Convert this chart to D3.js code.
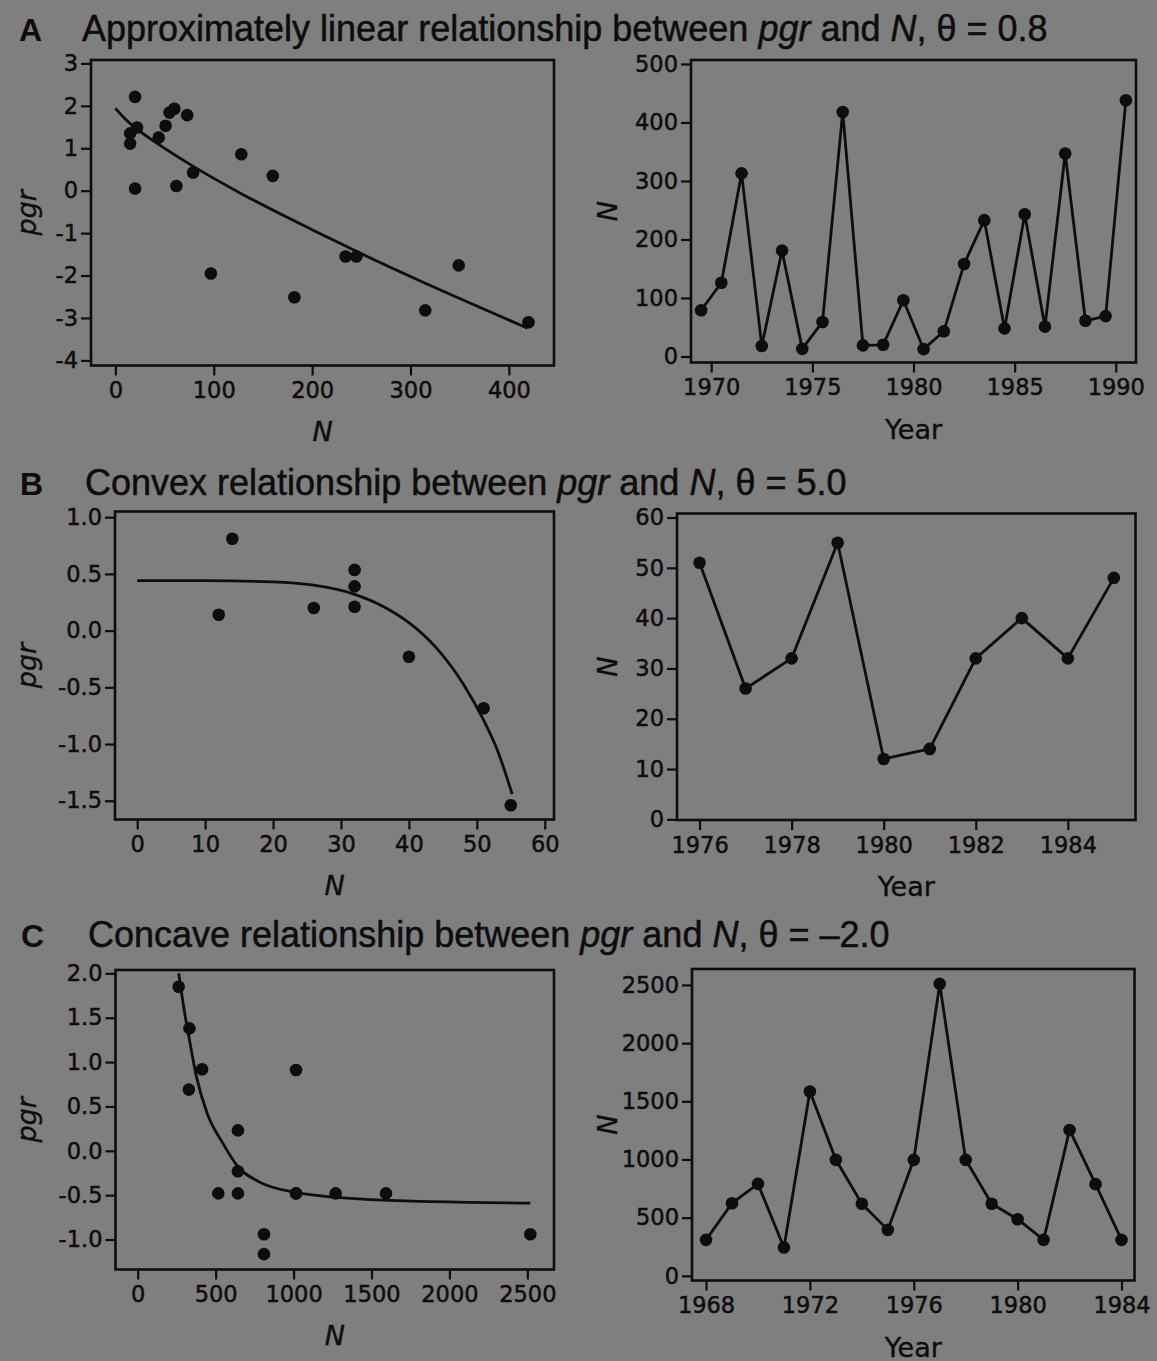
<!DOCTYPE html>
<html>
<head>
<meta charset="utf-8">
<script src="https://cdn.jsdelivr.net/npm/d3@7"></script>
<style>
  html, body { margin: 0; padding: 0; background: #7f7f7f; }
  svg { display: block; }
</style>
</head>
<body>
<svg id="chart" width="1157" height="1361"></svg>
<script>
// ---------------- DATA ----------------
// Panel A (theta = 0.8)
const aScatterN   = [20, 15, 15, 22, 20, 44, 51, 55, 60, 73, 62, 79, 97, 128, 160, 182, 234, 245, 315, 349, 420];
const aScatterPgr = [2.21, 1.11, 1.35, 1.49, 0.05, 1.25, 1.53, 1.84, 1.93, 1.78, 0.11, 0.43, -1.95, 0.86, 0.35, -2.51, -1.55, -1.55, -2.82, -1.76, -3.10];
const aCurveN     = [0, 10, 22, 44, 80, 128, 200, 245, 315, 350, 419];
const aCurvePgr   = [1.94, 1.69, 1.45, 1.09, 0.56, -0.07, -0.92, -1.43, -2.18, -2.54, -3.24];
const aYears      = [1969.5, 1970.5, 1971.5, 1972.5, 1973.5, 1974.5, 1975.5, 1976.5, 1977.5, 1978.5, 1979.5,
                     1980.5, 1981.5, 1982.5, 1983.5, 1984.5, 1985.5, 1986.5, 1987.5, 1988.5, 1989.5, 1990.5];
const aPop        = [79, 126, 313, 18, 181, 13, 59, 418, 19, 20, 96, 12.5, 43, 158, 233, 48, 243, 51, 347, 61, 69, 438];
const aScatterXTicks = [0, 100, 200, 300, 400];
const aScatterYTicks = [3, 2, 1, 0, -1, -2, -3, -4];
const aSeriesXTicks  = [1970, 1975, 1980, 1985, 1990];
const aSeriesYTicks  = [0, 100, 200, 300, 400, 500];

// Panel B (theta = 5.0)
const bScatterN   = [14, 12, 26, 32, 32, 32, 40, 51, 55];
const bScatterPgr = [0.81, 0.14, 0.20, 0.535, 0.39, 0.21, -0.23, -0.685, -1.54];
const bCurveN     = [0, 10, 20, 26, 32, 36, 40, 44, 48, 51, 53, 55.2];
const bCurvePgr   = [0.44, 0.44, 0.43, 0.40, 0.32, 0.22, 0.07, -0.15, -0.47, -0.79, -1.05, -1.44];
const bYears      = [1976, 1977, 1978, 1979, 1980, 1981, 1982, 1983, 1984, 1985];
const bPop        = [51, 26, 32, 55, 12, 14, 32, 40, 32, 48];
const bScatterXTicks = [0, 10, 20, 30, 40, 50, 60];
const bScatterYTicks = [1.0, 0.5, 0.0, -0.5, -1.0, -1.5];
const bSeriesXTicks  = [1976, 1978, 1980, 1982, 1984];
const bSeriesYTicks  = [0, 10, 20, 30, 40, 50, 60];

// Panel C (theta = -2.0)
const cScatterN   = [263, 332, 328, 413, 643, 643, 517, 643, 810, 810, 1016, 1016, 1016, 1270, 1593, 2519];
const cScatterPgr = [1.85, 1.38, 0.69, 0.92, 0.23, -0.23, -0.48, -0.48, -0.94, -1.165, 0.91, -0.48, -0.48, -0.48, -0.48, -0.94];
const cCurveN     = [263, 297, 332, 375, 446, 541, 643, 779, 1016, 1491, 2519];
const cCurvePgr   = [2.00, 1.60, 1.25, 0.85, 0.42, 0.10, -0.18, -0.35, -0.47, -0.55, -0.59];
const cYears      = [1968, 1969, 1970, 1971, 1972, 1973, 1974, 1975, 1976, 1977, 1978, 1979, 1980, 1981, 1982, 1983, 1984];
const cPop        = [309, 624, 790, 243, 1584, 997, 619, 395, 997, 2509, 997, 619, 487, 309, 1254, 788, 309];
const cScatterXTicks = [0, 500, 1000, 1500, 2000, 2500];
const cScatterYTicks = [2.0, 1.5, 1.0, 0.5, 0.0, -0.5, -1.0];
const cSeriesXTicks  = [1968, 1972, 1976, 1980, 1984];
const cSeriesYTicks  = [0, 500, 1000, 1500, 2000, 2500];

const titles = [
  { letter: "A", parts: [["Approximately linear relationship between ", false], ["pgr", true], [" and ", false], ["N", true], [", θ = 0.8", false]] },
  { letter: "B", parts: [["Convex relationship between ", false], ["pgr", true], [" and ", false], ["N", true], [", θ = 5.0", false]] },
  { letter: "C", parts: [["Concave relationship between ", false], ["pgr", true], [" and ", false], ["N", true], [", θ = –2.0", false]] }
];

// ---------------- DRAWING ----------------
const INK = "#0d0d0d";
const svg = d3.select("#chart");
svg.append("rect").attr("width", 1157).attr("height", 1361).attr("fill", "#7f7f7f");

const TICK_FONT = "'DejaVu Sans', Verdana, sans-serif";

function panel(opt) {
  const g = svg.append("g");
  const x = d3.scaleLinear().domain(opt.xDomain).range([opt.box[0], opt.box[1]]);
  const y = d3.scaleLinear().domain(opt.yDomain).range([opt.box[3], opt.box[2]]);

  // axes (ticks outside box)
  const xa = g.append("g").attr("transform", `translate(0,${opt.box[3]})`)
    .call(d3.axisBottom(x).tickValues(opt.xTicks).tickSize(10).tickPadding(7).tickFormat(opt.xFmt));
  const ya = g.append("g").attr("transform", `translate(${opt.box[0]},0)`)
    .call(d3.axisLeft(y).tickValues(opt.yTicks).tickSize(10).tickPadding(3).tickFormat(opt.yFmt));
  [xa, ya].forEach(a => {
    a.select(".domain").remove();
    a.selectAll(".tick line").attr("stroke", INK).attr("stroke-width", 2.2);
    a.selectAll(".tick text").attr("fill", INK).attr("stroke", INK).attr("stroke-width", 0.5)
      .style("font-family", TICK_FONT).style("font-size", "22.5px");
  });

  // box
  g.append("rect")
    .attr("x", opt.box[0]).attr("y", opt.box[2])
    .attr("width", opt.box[1] - opt.box[0]).attr("height", opt.box[3] - opt.box[2])
    .attr("fill", "none").attr("stroke", INK).attr("stroke-width", 2.6);

  // line (curve or series)
  const pts = opt.lineX.map((v, i) => [v, opt.lineY[i]]);
  const line = d3.line().x(d => x(d[0])).y(d => y(d[1])).curve(opt.smooth ? d3.curveMonotoneX : d3.curveLinear);
  g.append("path").datum(pts).attr("d", line)
    .attr("fill", "none").attr("stroke", INK).attr("stroke-width", 2.8).attr("stroke-linejoin", "round");

  // dots
  const dots = opt.dotX.map((v, i) => [v, opt.dotY[i]]);
  g.append("g").selectAll("circle").data(dots).join("circle")
    .attr("cx", d => x(d[0])).attr("cy", d => y(d[1])).attr("r", 6.3).attr("fill", INK);

  // axis titles
  const cx = (opt.box[0] + opt.box[1]) / 2;
  g.append("text").attr("x", cx).attr("y", opt.box[3] + opt.xTitleOff)
    .attr("text-anchor", "middle").attr("fill", INK).attr("stroke", INK).attr("stroke-width", 0.4)
    .style("font-family", TICK_FONT).style("font-size", "27px")
    .style("font-style", opt.xItalic ? "italic" : "normal")
    .text(opt.xTitle);
  const cy = (opt.box[2] + opt.box[3]) / 2;
  g.append("text").attr("transform", `translate(${opt.yTitleX},${cy}) rotate(-90)`)
    .attr("text-anchor", "middle").attr("fill", INK).attr("stroke", INK).attr("stroke-width", 0.4)
    .style("font-family", TICK_FONT).style("font-size", "27px").style("font-style", "italic")
    .text(opt.yTitle);
}

const intFmt = d => String(d);
const oneFmt = d => d.toFixed(1);

// Row A
panel({ box: [91, 554, 60, 365.5], xDomain: [-24.8, 445.9], yDomain: [-4.12, 3.08],
  xTicks: aScatterXTicks, yTicks: aScatterYTicks, xFmt: intFmt, yFmt: intFmt,
  lineX: aCurveN, lineY: aCurvePgr, smooth: true, dotX: aScatterN, dotY: aScatterPgr,
  xTitle: "N", xItalic: true, xTitleOff: 75, yTitle: "pgr", yTitleX: 36 });
panel({ box: [691, 1136, 60, 362.5], xDomain: [1969, 1991], yDomain: [-10.3, 506.8],
  xTicks: aSeriesXTicks, yTicks: aSeriesYTicks, xFmt: intFmt, yFmt: intFmt,
  lineX: aYears, lineY: aPop, smooth: false, dotX: aYears, dotY: aPop,
  xTitle: "Year", xItalic: false, xTitleOff: 76, yTitle: "N", yTitleX: 617 });

// Row B
panel({ box: [115, 554, 511.5, 819.5], xDomain: [-3.27, 61.36], yDomain: [-1.665, 1.05],
  xTicks: bScatterXTicks, yTicks: bScatterYTicks, xFmt: intFmt, yFmt: oneFmt,
  lineX: bCurveN, lineY: bCurvePgr, smooth: true, dotX: bScatterN, dotY: bScatterPgr,
  xTitle: "N", xItalic: true, xTitleOff: 75, yTitle: "pgr", yTitleX: 36 });
panel({ box: [677, 1135.5, 513.5, 820], xDomain: [1975.51, 1985.47], yDomain: [-0.13, 60.8],
  xTicks: bSeriesXTicks, yTicks: bSeriesYTicks, xFmt: intFmt, yFmt: intFmt,
  lineX: bYears, lineY: bPop, smooth: false, dotX: bYears, dotY: bPop,
  xTitle: "Year", xItalic: false, xTitleOff: 76, yTitle: "N", yTitleX: 617 });

// Row C
panel({ box: [115.5, 554, 970, 1269.5], xDomain: [-142.5, 2671], yDomain: [-1.338, 2.038],
  xTicks: cScatterXTicks, yTicks: cScatterYTicks, xFmt: intFmt, yFmt: oneFmt,
  lineX: cCurveN, lineY: cCurvePgr, smooth: true, dotX: cScatterN, dotY: cScatterPgr,
  xTitle: "N", xItalic: true, xTitleOff: 75, yTitle: "pgr", yTitleX: 36 });
panel({ box: [692, 1134.5, 969, 1280.5], xDomain: [1967.46, 1984.5], yDomain: [-40, 2637],
  xTicks: cSeriesXTicks, yTicks: cSeriesYTicks, xFmt: intFmt, yFmt: intFmt,
  lineX: cYears, lineY: cPop, smooth: false, dotX: cYears, dotY: cPop,
  xTitle: "Year", xItalic: false, xTitleOff: 76, yTitle: "N", yTitleX: 617 });

// Titles
const titlePos = [{ y: 41, lx: 19, tx: 82 }, { y: 495, lx: 20, tx: 85 }, { y: 947, lx: 21, tx: 88 }];
titles.forEach((t, i) => {
  const p = titlePos[i];
  svg.append("text").attr("x", p.lx).attr("y", p.y).attr("fill", INK)
    .style("font-family", "'Liberation Sans', Arial, sans-serif").style("font-size", "32px").style("font-weight", "bold")
    .text(t.letter);
  const tt = svg.append("text").attr("x", p.tx).attr("y", p.y).attr("fill", INK)
    .attr("stroke", INK).attr("stroke-width", 0.5)
    .style("font-family", "'Liberation Sans', Arial, sans-serif").style("font-size", "36px");
  t.parts.forEach(([s, it]) => {
    tt.append("tspan").style("font-style", it ? "italic" : "normal").text(s);
  });
});
</script>
</body>
</html>
